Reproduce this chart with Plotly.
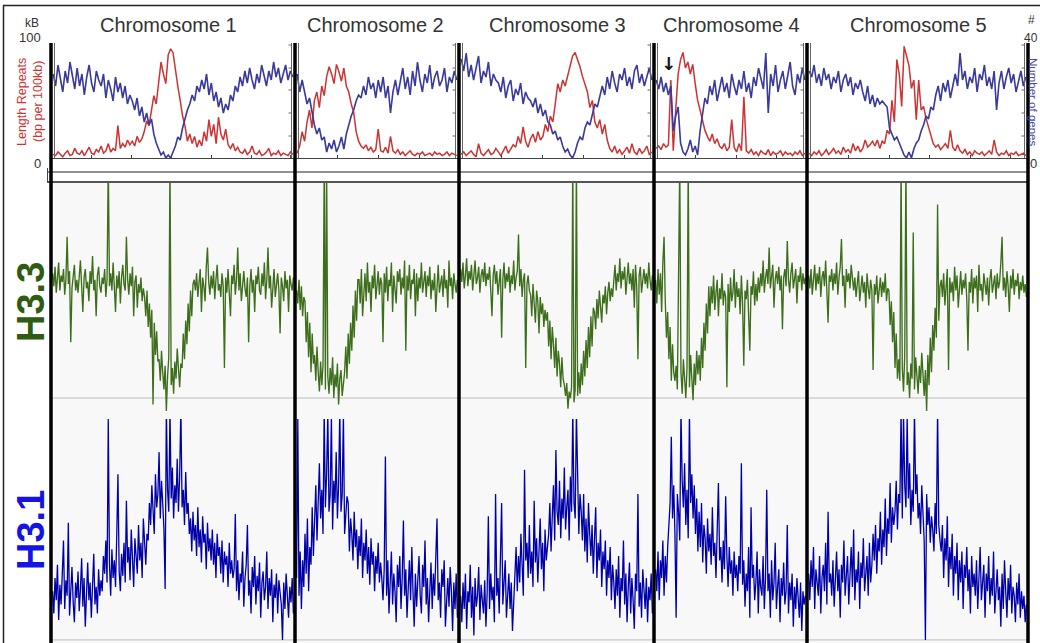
import plotly.graph_objects as go

W, H = 1040, 643

# ---------------- data ----------------
chrom_names = ["Chromosome 1", "Chromosome 2", "Chromosome 3", "Chromosome 4", "Chromosome 5"]
chrom_len_mb = [30.4, 19.7, 23.5, 18.6, 27.0]

# Top panel: length of repeats (kb per 100 kb), bins along each chromosome
repeats_chr1 = [3,2,5,3,1,4,6,2,3,8,4,3,6,2,5,9,4,3,7,5,10,4,6,12,5,8,6,
                27,8,12,9,15,11,14,10,18,13,16,22,31,27,40,52,45,62,80,70,62,86,91,88,72,60,
                48,35,27,14,20,12,18,9,15,10,22,14,32,18,28,12,34,20,15,24,11,
                8,12,6,9,5,4,7,3,5,10,4,3,6,2,3,5,8,2,4,3,6,2,4,3,2,5,3]
repeats_chr2 = [4,10,22,14,30,40,25,48,55,42,60,52,68,76,70,62,78,72,64,75,60,55,45,38,22,14,10,
                8,11,6,9,5,7,24,6,5,9,4,18,6,4,7,3,
                5,2,4,6,3,2,4,3,5,2,3,4,2,5,3,4,2,3,5,2,4,3,2]
repeats_chr3 = [3,5,2,4,6,3,1,12,4,2,5,7,3,4,8,5,2,6,10,4,7,11,
                9,18,12,26,14,9,16,20,13,22,15,18,28,22,35,30,45,62,55,65,60,68,75,85,88,82,
                76,68,62,55,42,48,30,25,32,20,28,15,
                8,5,10,4,7,3,6,9,4,12,5,3,8,4,6,10,3,5]
repeats_chr4 = [8,10,7,12,9,11,65,6,40,70,82,88,75,80,70,78,62,48,40,30,23,
                18,14,20,12,16,10,8,12,6,9,32,9,5,12,6,51,
                6,4,7,3,5,2,6,4,3,7,2,5,3,4,6,2,5,3,4,2,5,3,6,2,4]
repeats_chr5 = [4,2,5,3,6,2,4,7,3,5,8,4,6,3,9,5,7,4,12,6,10,5,8,15,9,11,14,
                10,15,8,14,12,23,20,48,30,82,70,43,93,85,77,58,65,32,65,40,43,33,26,18,12,
                9,11,7,10,12,8,23,9,6,11,
                6,4,7,3,5,2,6,4,3,5,2,4,6,3,15,5,2,4,3,6,2,4,3,5,2,3,4,2]

# Top panel: number of genes per bin
genes_chr1 = [28,24,31,26,22,29,25,32,27,23,30,24,28,21,27,31,25,22,29,26,
              24,28,20,26,23,19,27,22,25,20,24,18,21,
              19,16,20,14,17,12,15,11,13,8,5,3,1,2,0,1,0,2,4,7,6,10,13,16,18,21,19,24,22,
              26,23,28,21,25,19,22,17,20,15,18,16,21,19,24,22,27,24,29,25,
              30,26,23,28,25,31,27,24,29,26,32,27,30,25,28,31,26,29,27]
genes_chr2 = [28,22,26,22,18,20,15,11,8,10,6,7,2,5,3,6,2,4,7,3,8,11,14,16,19,21,20,
              24,21,27,23,25,20,26,22,27,20,24,15,22,26,21,
              25,30,23,27,21,29,24,32,26,22,28,25,31,23,27,29,24,26,30,22,27,25,29,26]
genes_chr3 = [33,29,35,27,31,26,30,34,25,29,27,32,24,28,26,
              25,22,27,20,24,26,19,23,21,25,18,22,20,19,17,20,15,18,14,16,12,
              11,8,9,6,7,4,2,3,1,0,2,5,7,6,10,12,11,15,18,17,21,
              24,21,27,23,29,25,22,28,26,30,24,27,23,29,31,25,28,24,27,30,26]
genes_chr4 = [26,23,27,22,25,21,24,9,14,17,5,2,1,3,6,2,4,1,9,14,20,18,
              24,21,26,19,23,27,22,25,20,28,24,21,26,23,29,22,25,20,27,24,
              30,26,23,35,15,28,24,31,22,26,29,23,27,32,24,21,28,25,30,26]
genes_chr5 = [29,27,31,25,28,24,30,26,28,23,27,25,29,22,26,28,24,27,21,25,23,26,
              22,19,24,18,21,17,20,18,19,18,17,10,8,6,7,5,3,1,0,2,0,3,5,6,9,
              11,14,13,17,16,21,24,19,25,22,26,20,24,
              28,24,35,26,29,23,27,25,30,22,28,26,31,24,27,23,29,16,25,29,23,27,30,25,28,22,26,29,24,27]

# H3.3 signal (relative enrichment, 0 = baseline)
h33_chr1 = [58,52,61,49,56,63,50,57,54,60,48,55,75,53,59,26,51,57,62,50,
            55,49,58,64,52,40,56,60,51,54,45,59,53,66,50,55,38,57,61,52,
            49,56,53,60,47,55,110,52,58,50,63,54,40,57,51,59,44,56,62,53,
            50,75,55,48,58,52,61,38,54,57,42,53,49,56,45,51,
            47,38,50,33,44,28,41,-3,35,20,31,17,
            18,8,22,12,4,15,-6,10,19,110,6,14,2,17,9,23,12,5,16,
            14,30,18,36,25,44,31,50,38,53,
            55,50,58,47,53,60,40,56,52,45,61,70,54,48,57,51,59,46,55,62,
            50,53,47,58,52,14,56,49,60,51,38,57,53,62,48,55,70,50,58,45,
            54,59,51,47,56,26,52,60,49,55,40,57,53,61,50,48,58,52,63,46,
            55,70,51,57,42,54,60,47,53,58,50,30,56,52,45,59,51,55,40,57,53,50,56]
h33_chr2 = [50,44,55,41,52,38,47,
            45,26,40,19,35,12,30,16,
            20,8,24,12,3,17,6,15,110,4,110,10,
            2,14,6,19,0,11,5,16,-3,9,13,1,8,
            12,24,9,30,16,35,22,43,28,50,36,55,
            55,44,60,38,52,58,45,63,49,54,40,57,51,62,46,53,59,48,56,
            53,26,58,49,61,45,55,52,63,40,57,50,44,59,54,60,48,56,51,64,
            22,57,50,62,46,55,53,60,38,58,45,56,51,63,49,54,59,47,57,52,
            61,46,55,50,58,40,56,62,49,53,57,47,60,51,55,42,64,52,56,46,
            58,53,49,55]
h33_chr3 = [60,54,63,51,57,65,52,59,55,62,50,58,64,53,56,61,49,57,60,54,
            63,52,58,55,61,50,38,57,62,53,59,48,56,60,28,55,63,51,58,54,
            61,49,57,53,64,50,56,59,76,52,60,47,55,58,14,53,57,50,
            48,38,53,42,35,50,45,30,47,39,44,33,41,36,
            40,24,36,18,33,25,14,28,10,22,16,5,19,9,
            6,1,7,-5,3,0,5,110,-2,4,110,1,
            12,2,16,6,22,10,27,14,33,19,38,24,42,
            40,32,46,37,50,42,35,48,44,52,39,49,54,45,51,47,
            56,62,50,58,54,65,51,59,55,61,48,57,63,53,58,50,60,42,62,52,
            18,57,61,49,56,60,53,58,51,63,55,50,57]
h33_chr4 = [55,44,60,48,58,40,63,75,
            45,28,40,18,33,8,25,12,
            8,15,4,70,110,12,2,18,7,0,14,110,5,20,9,-1,16,6,22,11,
            20,8,28,14,35,22,44,30,52,38,
            52,44,57,41,49,55,38,51,46,58,43,50,47,5,53,40,56,45,49,60,
            42,54,47,51,39,57,44,15,50,46,55,41,22,52,48,59,43,53,45,56,
            49,
            58,52,64,49,56,60,53,70,51,57,62,42,55,59,53,61,50,57,32,56,
            60,52,73,55,49,58,63,51,56,60,44,57,54,61,50,58,53,56]
h33_chr5 = [57,51,60,48,55,62,50,58,53,61,47,56,59,52,64,49,35,57,54,60,
            50,58,53,63,48,56,61,74,52,57,42,60,54,58,51,62,55,50,
            56,47,53,59,45,52,57,49,54,42,58,51,46,55,50,13,53,48,57,44,
            52,56,47,54,49,58,45,51,
            50,34,45,26,40,14,30,9,
            18,8,110,14,3,20,110,6,12,0,16,9,77,4,19,11,2,15,7,21,10,1,13,-6,
            20,6,28,12,34,22,42,28,90,36,52,
            55,47,58,43,52,60,13,56,49,54,45,61,50,57,42,53,59,48,55,51,
            58,46,22,54,49,60,44,56,51,57,40,62,50,53,45,58,52,48,56,43,
            55,60,49,53,57,46,58,51,54,63,75,50,56,47,59,52,40,57,51,60,
            48,55,52,58,46,54,50,57,49,53,47]

# H3.1 signal
h31_chr1 = [22,12,28,18,34,9,25,16,30,45,14,27,20,53,11,24,33,17,8,26,
            19,31,13,23,37,15,28,6,21,35,18,26,10,29,39,16,24,12,32,20,27,
            22,38,30,45,26,100,34,20,41,28,36,24,47,75,31,22,39,29,44,26,
            63,35,42,27,50,33,24,46,38,30,52,36,44,28,55,40,34,48,
            45,62,52,70,58,48,75,60,66,85,55,72,62,50,23,105,68,58,104,64,
            78,55,70,62,82,58,74,105,60,68,52,76,57,
            62,48,55,40,58,45,52,38,60,42,50,35,56,44,48,32,53,40,46,36,
            50,34,44,28,48,38,42,30,45,26,40,34,38,24,44,30,36,28,
            32,57,22,36,18,30,26,40,15,28,34,52,20,27,12,33,24,38,16,29,
            22,35,10,26,31,18,24,40,14,28,20,32,8,25,19,30,12,27,22,16,
            0,26,14,30,20,10,24,17,28,12]
h31_chr2 = [28,100,20,40,14,36,24,48,30,55,22,42,34,60,38,
            52,70,45,62,80,55,68,48,104,60,75,103,58,66,101,50,72,62,85,55,
            70,104,58,66,102,48,60,65,
            62,40,55,48,36,58,42,50,32,47,38,55,28,44,36,50,30,42,25,46,
            34,40,22,38,30,44,26,35,
            28,18,32,83,20,36,12,26,40,16,30,22,8,34,24,38,14,28,54,20,
            32,10,25,36,18,42,22,6,30,15,27,38,20,12,34,24,45,16,28,8,
            22,35,14,30,20,40,55,18,26,10,32,24,36,6,20,28,15,33,22,4,
            26,14,30,10]
h31_chr3 = [20,8,26,14,30,5,22,17,34,10,24,2,28,15,20,33,9,25,18,12,
            27,6,21,56,14,30,18,24,8,66,20,28,12,32,62,16,25,36,10,22,30,14,26,4,19,
            30,42,22,38,26,48,34,20,77,36,44,28,52,30,40,24,63,35,46,26,
            40,55,32,44,22,50,36,42,
            48,62,40,56,70,45,86,58,52,72,46,64,55,78,50,60,68,45,74,58,
            104,62,55,103,70,48,66,
            58,45,66,40,55,35,62,48,38,52,30,46,60,28,44,36,50,24,40,32,
            45,20,36,28,42,18,34,
            26,14,32,20,38,10,28,22,45,16,30,8,24,35,12,28,18,5,30,22,
            66,15,26,10,32,20,14,28,8,24,18,30,12]
h31_chr4 = [32,22,40,18,36,28,45,20,38,26,42,
            50,62,92,55,70,48,10,66,58,45,104,72,60,80,52,68,46,103,62,75,
            55,70,48,64,40,
            58,42,62,35,52,46,30,55,40,48,34,60,38,44,28,50,71,36,42,26,
            45,32,65,38,24,42,30,36,20,40,28,34,22,38,30,
            80,25,36,15,30,22,42,10,60,28,34,18,26,40,12,32,24,20,38,14,
            28,68,22,30,10,36,18,26,44,14,24,32,8,28,20,35,16,22,52,12,
            26,18,30,6,24,14,28,20,10,26,4,22,16,20]
h31_chr5 = [30,18,36,24,42,14,32,26,20,38,12,28,34,22,44,16,58,26,30,20,
            36,15,28,40,22,32,10,34,26,45,20,30,38,16,28,42,24,50,18,32,
            26,40,14,35,28,46,22,30,38,20,44,26,34,48,
            36,52,30,46,40,58,34,50,42,64,38,55,48,71,44,60,52,
            58,72,50,66,62,104,55,103,70,60,101,64,80,52,68,58,104,66,75,55,
            62,48,70,58,45,0,66,52,60,44,56,50,40,62,48,104,52,45,
            40,52,28,46,36,56,24,42,32,48,20,38,30,44,18,36,26,40,14,34,
            28,42,22,32,12,38,24,
            30,20,36,14,28,42,18,26,34,10,30,22,38,16,28,20,40,12,26,32,
            18,24,6,30,14,36,22,10,28,18,34,12,24,20,8,26,16,30,10,22,
            14,20,8,16]

repeats = [repeats_chr1, repeats_chr2, repeats_chr3, repeats_chr4, repeats_chr5]
genes = [genes_chr1, genes_chr2, genes_chr3, genes_chr4, genes_chr5]
h33 = [h33_chr1, h33_chr2, h33_chr3, h33_chr4, h33_chr5]
h31 = [h31_chr1, h31_chr2, h31_chr3, h31_chr4, h31_chr5]

# ---------------- layout helpers ----------------
edges_px = [51, 295, 459, 654, 807, 1028]
title_x_px = [168, 375, 557, 731, 918]
panel_tick_px = [45, 68, 90, 113, 136]

def px(x):
    return x / W

def py(y):
    return 1 - y / H

RED = "#cc3333"
GENE_BLUE = "#3a3a9c"
GREEN = "#3d6e1c"
H31_BLUE = "#0000a8"

fig = go.Figure()

def positions(vals, L):
    n = len(vals)
    return [(i + 0.5) * L / n for i in range(n)]

for c in range(5):
    xa = "x" if c == 0 else f"x{c+1}"
    L = chrom_len_mb[c]
    fig.add_trace(go.Scatter(x=positions(genes[c], L), y=genes[c], xaxis=xa, yaxis="y2",
                             mode="lines", line=dict(color=GENE_BLUE, width=1.6), hoverinfo="skip"))
    fig.add_trace(go.Scatter(x=positions(repeats[c], L), y=repeats[c], xaxis=xa, yaxis="y",
                             mode="lines", line=dict(color=RED, width=1.5), hoverinfo="skip"))
    fig.add_trace(go.Scatter(x=positions(h33[c], L), y=h33[c], xaxis=xa, yaxis="y3",
                             mode="lines", line=dict(color=GREEN, width=1.35), hoverinfo="skip"))
    fig.add_trace(go.Scatter(x=positions(h31[c], L), y=h31[c], xaxis=xa, yaxis="y4",
                             mode="lines", line=dict(color=H31_BLUE, width=1.3), hoverinfo="skip"))

layout = dict(
    width=W, height=H,
    margin=dict(l=0, r=0, t=0, b=0),
    paper_bgcolor="white",
    plot_bgcolor="rgba(0,0,0,0)",
    showlegend=False,
    font=dict(family="Liberation Sans, Arial, sans-serif", color="#333"),
)

for c in range(5):
    key = "xaxis" if c == 0 else f"xaxis{c+1}"
    layout[key] = dict(
        domain=[px(edges_px[c] + 1), px(edges_px[c + 1] - 1)],
        range=[0, chrom_len_mb[c]],
        anchor="y",
        showline=True, linecolor="#444", linewidth=1.2,
        ticks="inside", ticklen=3, tickcolor="#444", tick0=0, dtick=5,
        showticklabels=False, showgrid=False, zeroline=False, fixedrange=True,
    )

top_dom = [py(158), py(38)]
layout["yaxis"] = dict(domain=top_dom, range=[0, 100], visible=False, showgrid=False, fixedrange=True)
layout["yaxis2"] = dict(domain=top_dom, range=[0, 40], visible=False, showgrid=False, fixedrange=True)
layout["yaxis3"] = dict(domain=[py(412), py(183)], range=[-6.5, 100], visible=False, showgrid=False,
                        fixedrange=True)
layout["yaxis4"] = dict(domain=[0, py(419)], range=[-1.4, 100], visible=False, showgrid=False,
                        fixedrange=True)

shapes = []
# light grey background for signal tracks
shapes.append(dict(type="rect", xref="paper", yref="paper", x0=px(52), x1=px(1028), y0=0, y1=py(183),
                   fillcolor="#f8f8f8", line=dict(width=0), layer="below"))
# baselines
shapes.append(dict(type="line", xref="paper", yref="y3", x0=px(52), x1=px(1028), y0=0, y1=0,
                   line=dict(color="#bdbdbd", width=1), layer="below"))
shapes.append(dict(type="line", xref="paper", yref="y4", x0=px(52), x1=px(1028), y0=0, y1=0,
                   line=dict(color="#bdbdbd", width=1), layer="below"))
# ideogram band lines
shapes.append(dict(type="line", xref="paper", yref="paper", x0=px(47), x1=px(1028), y0=py(172), y1=py(172),
                   line=dict(color="#222", width=1)))
shapes.append(dict(type="line", xref="paper", yref="paper", x0=px(47), x1=px(1028), y0=py(182), y1=py(182),
                   line=dict(color="#555", width=2)))
shapes.append(dict(type="line", xref="paper", yref="paper", x0=px(47.5), x1=px(47.5), y0=py(168), y1=py(182),
                   line=dict(color="#444", width=1)))
# thin per-chromosome axis lines in the top panel
for c in range(5):
    xl = edges_px[c] + 3.5
    xr = edges_px[c + 1] - 3.5
    for xx in (xl, xr):
        shapes.append(dict(type="line", xref="paper", yref="paper", x0=px(xx), x1=px(xx),
                           y0=py(158), y1=py(43), line=dict(color="#666", width=1)))
    for ty in panel_tick_px:
        shapes.append(dict(type="line", xref="paper", yref="paper", x0=px(xr - 3), x1=px(xr),
                           y0=py(ty), y1=py(ty), line=dict(color="#666", width=1)))
# outer frame
shapes.append(dict(type="line", xref="paper", yref="paper", x0=px(3), x1=1, y0=py(5.5), y1=py(5.5),
                   line=dict(color="#222", width=1.5)))
shapes.append(dict(type="line", xref="paper", yref="paper", x0=px(3.5), x1=px(3.5), y0=0, y1=py(5.5),
                   line=dict(color="#222", width=1.5)))
# chromosome separators
for e in edges_px:
    shapes.append(dict(type="line", xref="paper", yref="paper", x0=px(e), x1=px(e), y0=0, y1=py(43),
                       line=dict(color="black", width=3.5)))
layout["shapes"] = shapes

ann = []
def text(x, y, s, size, color="#333", angle=0, bold=False, family=None):
    d = dict(x=px(x), y=py(y), xref="paper", yref="paper", text=f"<b>{s}</b>" if bold else s,
             showarrow=False, xanchor="center", yanchor="middle", textangle=angle,
             font=dict(size=size, color=color))
    if family:
        d["font"]["family"] = family
    ann.append(d)

for name, tx in zip(chrom_names, title_x_px):
    text(tx, 25, name, 20)
text(32, 23, "kB", 12)
text(30, 38, "100", 13)
text(37, 163, "0", 13)
text(22, 102, "Length Repeats", 12.5, color=RED, angle=-90)
text(38, 102, "(bp per 100kb)", 12.5, color=RED, angle=-90)
text(1031, 20, "#", 12)
text(1031, 38, "40", 12)
text(1033, 163, "0", 13)
text(1033, 102, "Number of genes", 11.5, color="#4a4aa8", angle=90)
text(31, 302, "H3.3", 38, color="#2e5c10", angle=-90, bold=True)
text(31, 530, "H3.1", 38, color="#1414e6", angle=-90, bold=True)
text(668, 64, "↓", 18, color="#111", bold=True, family="DejaVu Sans")
layout["annotations"] = ann

fig.update_layout(**layout)
fig.write_html("out.html")
